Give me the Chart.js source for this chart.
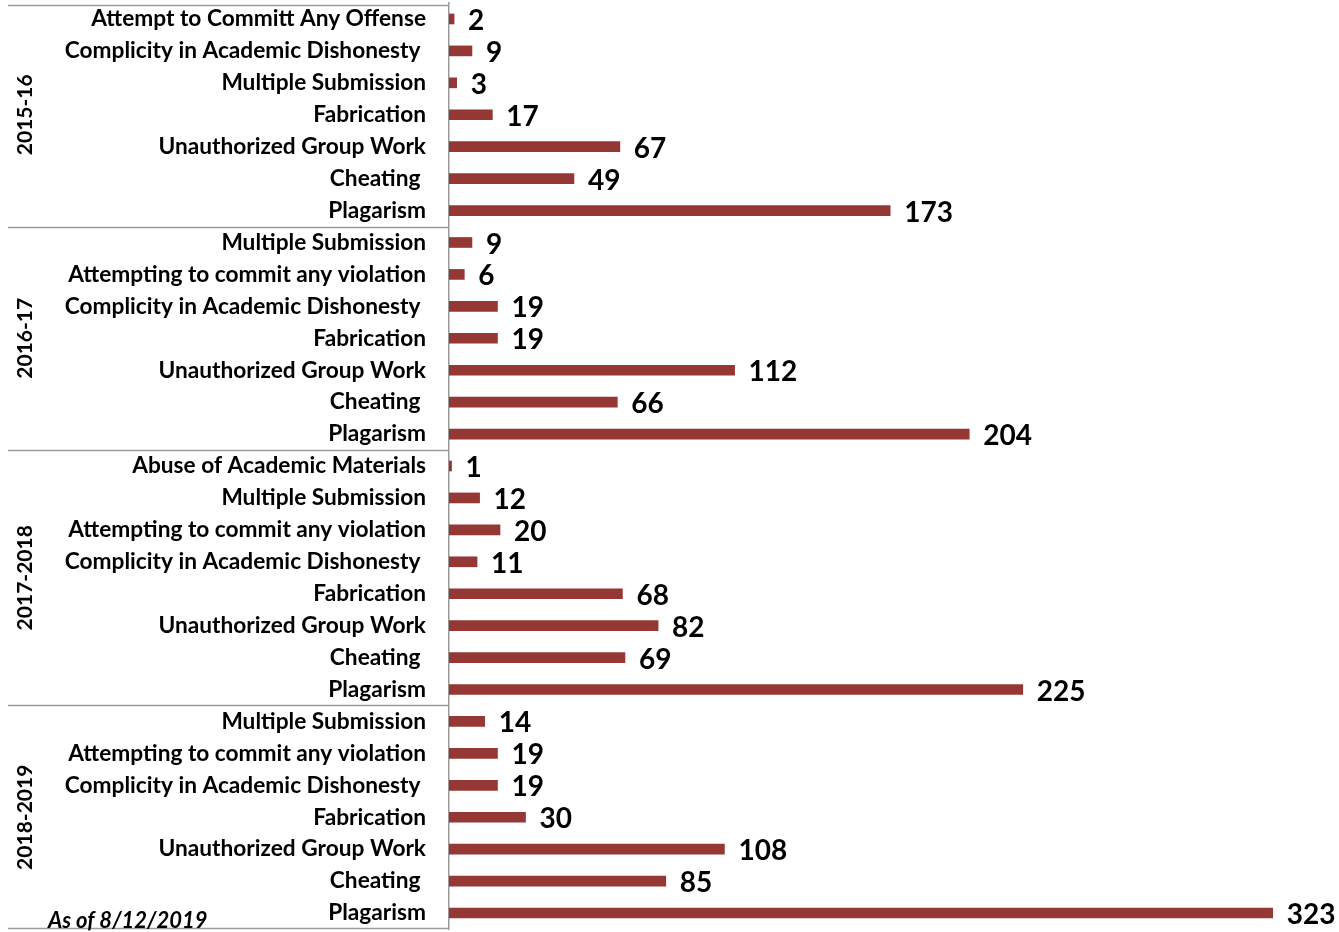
<!DOCTYPE html>
<html>
<head>
<meta charset="utf-8">
<script src="https://cdn.jsdelivr.net/npm/chart.js@4/dist/chart.umd.min.js"></script>
<style>
  html, body { margin: 0; padding: 0; background: #fff; }
  #chart { display: block; }
</style>
</head>
<body>
<canvas id="chart" width="1339" height="932"></canvas>
<script>
/* global Chart */

const groupNames = ["2015-16", "2016-17", "2017-2018", "2018-2019"];

const labels2015 = ["Attempt to Committ Any Offense", "Complicity in Academic Dishonesty ", "Multiple Submission",
    "Fabrication", "Unauthorized Group Work", "Cheating ", "Plagarism"];
const values2015 = [2, 9, 3, 17, 67, 49, 173];

const labels2016 = ["Multiple Submission", "Attempting to commit any violation", "Complicity in Academic Dishonesty ",
    "Fabrication", "Unauthorized Group Work", "Cheating ", "Plagarism"];
const values2016 = [9, 6, 19, 19, 112, 66, 204];

const labels2017 = ["Abuse of Academic Materials", "Multiple Submission", "Attempting to commit any violation",
    "Complicity in Academic Dishonesty ", "Fabrication", "Unauthorized Group Work", "Cheating ", "Plagarism"];
const values2017 = [1, 12, 20, 11, 68, 82, 69, 225];

const labels2018 = ["Multiple Submission", "Attempting to commit any violation", "Complicity in Academic Dishonesty ",
    "Fabrication", "Unauthorized Group Work", "Cheating ", "Plagarism"];
const values2018 = [14, 19, 19, 30, 108, 85, 323];

const footNote = "As of 8/12/2019";

const groupLabels = [labels2015, labels2016, labels2017, labels2018];
const groupValues = [values2015, values2016, values2017, values2018];

let labels = [];
let values = [];
let groupSizes = [];
for (let i = 0; i < groupLabels.length; i++) {
    labels = labels.concat(groupLabels[i]);
    values = values.concat(groupValues[i]);
    groupSizes.push(groupLabels[i].length);
}

const FONT = "Lato, 'Open Sans', sans-serif";
const AXIS_LEFT = 449;
const LINE_COLOR = "#9a9a9a";

// group separators, rotated group names, value labels, footnote
const decorations = {
    id: "decorations",
    afterDatasetsDraw(chart) {
        let ctx = chart.ctx;
        let yScale = chart.scales.y;
        let area = chart.chartArea;
        let step = yScale.getPixelForValue(1) - yScale.getPixelForValue(0);

        ctx.save();
        ctx.strokeStyle = LINE_COLOR;
        ctx.lineWidth = 1.5;

        let start = 0;
        let bounds = [];
        for (let g = 0; g < groupSizes.length; g++) {
            let top = yScale.getPixelForValue(start) - step / 2;
            let bottom = yScale.getPixelForValue(start + groupSizes[g] - 1) + step / 2;
            bounds.push([top, bottom]);
            start += groupSizes[g];
        }

        bounds.forEach((b, g) => {
            let yTop = g == 0 ? b[0] + 2 : b[0];
            ctx.beginPath();
            ctx.moveTo(8, Math.round(yTop) + 0.5);
            ctx.lineTo(area.left, Math.round(yTop) + 0.5);
            ctx.stroke();
            if (g == bounds.length - 1) {
                ctx.beginPath();
                ctx.moveTo(8, Math.round(b[1]) - 0.5);
                ctx.lineTo(area.left, Math.round(b[1]) - 0.5);
                ctx.stroke();
            }

            ctx.save();
            ctx.translate(25, (b[0] + b[1]) / 2);
            ctx.rotate(-Math.PI / 2);
            ctx.fillStyle = "#000";
            ctx.font = "bold 21px " + FONT;
            ctx.textAlign = "center";
            ctx.textBaseline = "middle";
            ctx.fillText(groupNames[g], 0, 0);
            ctx.restore();
        });

        // value labels
        ctx.fillStyle = "#000";
        ctx.font = "bold 28px " + FONT;
        ctx.textAlign = "left";
        ctx.textBaseline = "middle";
        chart.getDatasetMeta(0).data.forEach((bar, i) => {
            ctx.fillText(values[i], bar.x + 14, bar.y + 2);
        });

        // footnote
        ctx.font = "italic bold 22px " + FONT;
        ctx.textBaseline = "alphabetic";
        ctx.fillText(footNote, 48, 928);

        ctx.restore();
    }
};

new Chart(document.getElementById("chart"), {
    type: "bar",
    data: {
        labels: labels,
        datasets: [{
            data: values,
            backgroundColor: "#953735",
            borderWidth: 0,
            barThickness: 10
        }]
    },
    options: {
        indexAxis: "y",
        responsive: false,
        animation: false,
        layout: { padding: { top: 3, bottom: 3, left: 0, right: 0 } },
        plugins: {
            legend: { display: false },
            tooltip: { enabled: false }
        },
        scales: {
            x: {
                display: false,
                min: 0,
                max: 349
            },
            y: {
                grid: { display: false, drawTicks: false },
                border: { display: true, color: LINE_COLOR, width: 1.5 },
                ticks: {
                    color: "#000",
                    padding: 23,
                    autoSkip: false,
                    font: { family: FONT, weight: "bold", size: 22.7 }
                },
                afterFit(scale) {
                    scale.width = AXIS_LEFT;
                    scale.paddingTop = 0;
                    scale.paddingBottom = 0;
                }
            }
        }
    },
    plugins: [decorations]
});
</script>
</body>
</html>
